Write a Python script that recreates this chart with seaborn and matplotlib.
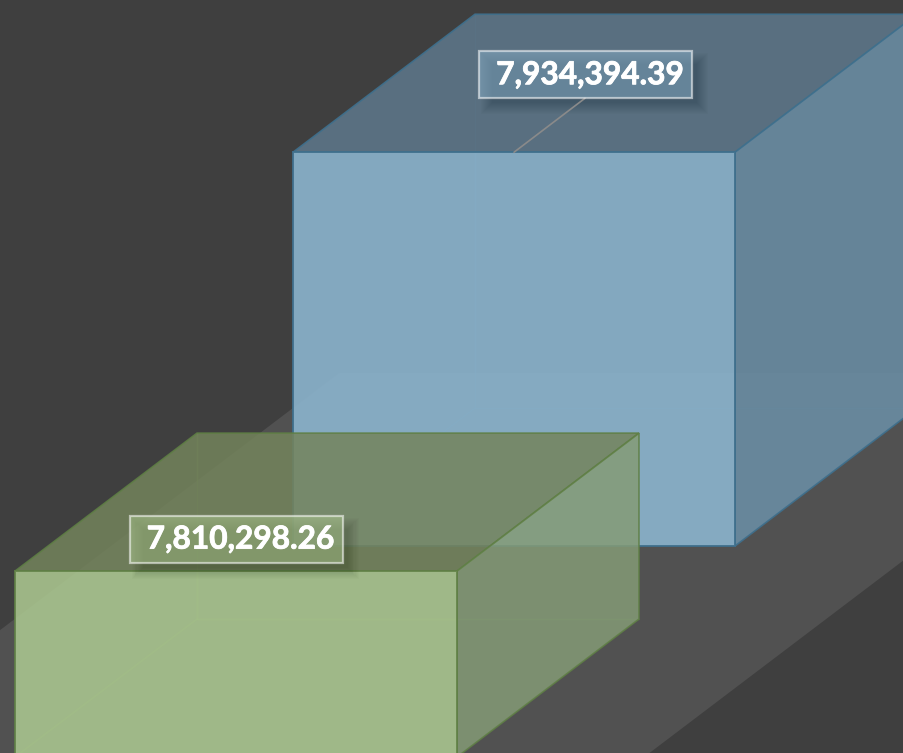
import matplotlib
matplotlib.use("Agg")
import matplotlib.pyplot as plt
import matplotlib.patheffects as pe
from matplotlib.patches import Polygon, Rectangle
import seaborn as sns

series_names = ["Blue", "Green"]
series_values = [7934394.39, 7810298.26]
axis_baseline = 7699324.0

front_colors = ["#8ab2cb", "#aecb92"]
top_colors = ["#5c7486", "#74845c"]
side_colors = ["#698ba1", "#849b76"]
face_alpha = [0.92, 0.85]
edge_colors = ["#3f6f8c", "#5f7f45"]

W, H = 904, 753
BAR_PX = 442.0
UNITS_PER_PX = 597.0  # value units per pixel on the truncated axis

# oblique projection, in axis units
DEPTH_X = 182 / BAR_PX
DEPTH_Y = 138 * UNITS_PER_PX
ROW_X = -278 / BAR_PX
ROW_Y = -211 * UNITS_PER_PX

BLUE_CX, BLUE_BASE = 514, 546
XLIM = (-BLUE_CX / BAR_PX, (W - BLUE_CX) / BAR_PX)
YLIM = (axis_baseline - (H - BLUE_BASE) * UNITS_PER_PX, axis_baseline + BLUE_BASE * UNITS_PER_PX)

# label offsets from the middle of each bar's top front edge, in pixels
label_offsets = [(71, -77.5), (0, -32)]

sns.set_theme(style="dark")
plt.rcParams["font.family"] = ["Lato", "DejaVu Sans"]

fig = plt.figure(figsize=(W / 100, H / 100), dpi=100, facecolor="#3f3f3f")
ax = fig.add_axes([0, 0, 1, 1])
ax.set_facecolor("#3f3f3f")


def along_depth(x, y, k):
    return x + k * DEPTH_X, y + k * DEPTH_Y


# floor band, stops at a horizontal back edge behind the blue bar
upper = (293 / BAR_PX + XLIM[0], axis_baseline + 138 * UNITS_PER_PX)
lower = (904 / BAR_PX + XLIM[0], axis_baseline - 14 * UNITS_PER_PX)
floor_pts = [along_depth(*upper, -6), along_depth(*upper, 0.254), along_depth(*lower, 1.355), along_depth(*lower, -6)]
ax.add_patch(Polygon(floor_pts, closed=True, facecolor="#515151", edgecolor="none", zorder=1))

for i, name in enumerate(series_names):
    height = series_values[i] - axis_baseline
    sns.barplot(x=[i * ROW_X], y=[height], native_scale=True, width=1, gap=0, ax=ax,
                bottom=axis_baseline + i * ROW_Y, color=front_colors[i], saturation=1,
                edgecolor=edge_colors[i], linewidth=1.4, alpha=face_alpha[i], err_kws={"linewidth": 0})
    bar = ax.patches[-1]
    bar.set_zorder(4 + i * 4)
    x0, y0 = bar.get_x(), bar.get_y()
    x1, y1 = x0 + bar.get_width(), y0 + bar.get_height()

    # faint edges of the hidden back corner
    bx, by = along_depth(x0, y0, 1)
    tx, ty = along_depth(x0, y1, 1)
    ax.plot([bx, tx], [by, ty], color=edge_colors[i], lw=1, alpha=0.5, zorder=2 + i * 4)
    ax.plot([bx, along_depth(x1, y0, 1)[0]], [by, by], color=edge_colors[i], lw=1, alpha=0.5, zorder=2 + i * 4)
    ax.plot([x0, bx], [y0, by], color=edge_colors[i], lw=1, alpha=0.5, zorder=2 + i * 4)

    top = [(x0, y1), (x1, y1), along_depth(x1, y1, 1), along_depth(x0, y1, 1)]
    side = [(x1, y0), (x1, y1), along_depth(x1, y1, 1), along_depth(x1, y0, 1)]
    ax.add_patch(Polygon(top, closed=True, facecolor=top_colors[i], alpha=face_alpha[i], edgecolor=edge_colors[i], lw=1.2, zorder=3 + i * 4))
    ax.add_patch(Polygon(side, closed=True, facecolor=side_colors[i], alpha=face_alpha[i], edgecolor=edge_colors[i], lw=1.2, zorder=3 + i * 4))

    # data label with soft shadow
    cx = (x0 + x1) / 2 + label_offsets[i][0] / BAR_PX
    cy = y1 - label_offsets[i][1] * UNITS_PER_PX
    box_w = 213 / BAR_PX
    box_h = 47 * UNITS_PER_PX
    for g in range(-4, 8):
        ax.add_patch(Rectangle((cx - box_w / 2 + (9 - g) / BAR_PX, cy - box_h / 2 - (9 + g) * UNITS_PER_PX),
                               box_w + 2 * g / BAR_PX, box_h + 2 * g * UNITS_PER_PX,
                               facecolor="black", edgecolor="none", alpha=0.014, zorder=10))
    if i == 0:
        ax.plot([cx, (x0 + x1) / 2], [cy - box_h / 2, y1], color="#8a8a8a", lw=1.2, zorder=11)
    box_fill = matplotlib.colors.to_rgba(front_colors[i], 0.5)
    ax.add_patch(Rectangle((cx - box_w / 2, cy - box_h / 2), box_w, box_h,
                           facecolor=box_fill, edgecolor="none", zorder=12))
    ax.add_patch(Rectangle((cx - box_w / 2, cy - box_h / 2), box_w, box_h,
                           facecolor="none", edgecolor=(1, 1, 1, 0.55), lw=1.6, zorder=12))
    ax.text(cx + 4.5 / BAR_PX, cy, f"{series_values[i]:,.2f}", color="white", fontsize=22.8,
            fontweight="bold", ha="center", va="center", zorder=13,
            path_effects=[pe.withStroke(linewidth=0.6, foreground="white")])

ax.set_xlim(*XLIM)
ax.set_ylim(*YLIM)
ax.axis("off")

fig.savefig("out.png", dpi=100, facecolor=fig.get_facecolor())
